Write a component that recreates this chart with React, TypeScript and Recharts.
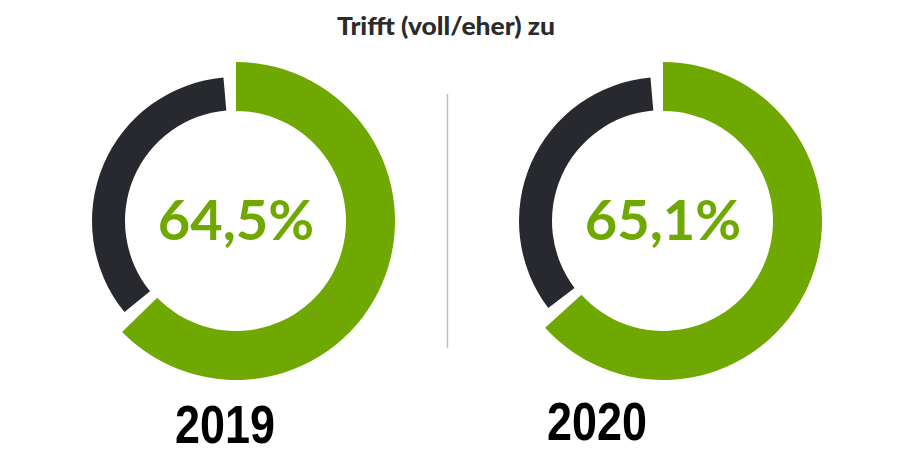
import { PieChart, Pie, Cell } from 'recharts'

// Survey values per year: share "trifft (voll/eher) zu" vs. the rest
const YEARS = ['2019', '2020']
const AGREE = [64.5, 65.1]
const REST = [35.5, 34.9]
const AGREE_LABELS = ['64,5%', '65,1%']
const TITLE = 'Trifft (voll/eher) zu'

const GREEN = '#6ea800'
const DARK = '#27292e'

const CENTERS = [236, 663]
const CY = 221
const YEAR_POS = [
  { x: 225, y: 443 },
  { x: 597, y: 440 },
]

export default function App() {
  return (
    <div style={{ position: 'absolute', left: 0, top: 0, width: 900, height: 466, background: '#fff' }}>
      <PieChart width={900} height={466} margin={{ top: 0, right: 0, bottom: 0, left: 0 }}>
        {YEARS.map((year, i) => {
          const data = [
            { name: 'Trifft zu', value: AGREE[i] },
            { name: 'Rest', value: REST[i] },
          ]
          return [
            <Pie
              key={year + '-rest'}
              data={data}
              dataKey="value"
              cx={CENTERS[i]}
              cy={CY}
              innerRadius={111}
              outerRadius={144}
              startAngle={90}
              endAngle={-270}
              paddingAngle={5}
              stroke="none"
              isAnimationActive={false}
            >
              <Cell fill="none" />
              <Cell fill={DARK} />
            </Pie>,
            <Pie
              key={year + '-agree'}
              data={data}
              dataKey="value"
              cx={CENTERS[i]}
              cy={CY}
              innerRadius={110}
              outerRadius={159}
              startAngle={90}
              endAngle={-270}
              paddingAngle={5}
              stroke="none"
              isAnimationActive={false}
            >
              <Cell fill={GREEN} />
              <Cell fill="none" />
            </Pie>,
          ]
        })}
      </PieChart>
      <svg width={900} height={466} style={{ position: 'absolute', left: 0, top: 0, pointerEvents: 'none' }}>
        <text x={446} y={35} textAnchor="middle" fill="#2b2b2b"
          textLength={218} lengthAdjust="spacingAndGlyphs"
          style={{ fontFamily: 'Lato', fontWeight: 900, fontSize: 24 }}>
          {TITLE}
        </text>
        <line x1={447.5} x2={447.5} y1={94} y2={348} stroke="#bdbdbd" strokeWidth={1.5} />
        {YEARS.map((year, i) => (
          <g key={year}>
            <text x={CENTERS[i]} y={240} textAnchor="middle" fill={GREEN}
              style={{ fontFamily: 'Lato', fontWeight: 700, fontSize: 56 }}>
              {AGREE_LABELS[i]}
            </text>
            <text x={YEAR_POS[i].x} y={YEAR_POS[i].y} textAnchor="middle" fill="#000"
              textLength={100} lengthAdjust="spacingAndGlyphs"
              style={{ fontFamily: "'Liberation Sans', Arial, sans-serif", fontWeight: 700, fontSize: 53 }}>
              {year}
            </text>
          </g>
        ))}
      </svg>
    </div>
  )
}
